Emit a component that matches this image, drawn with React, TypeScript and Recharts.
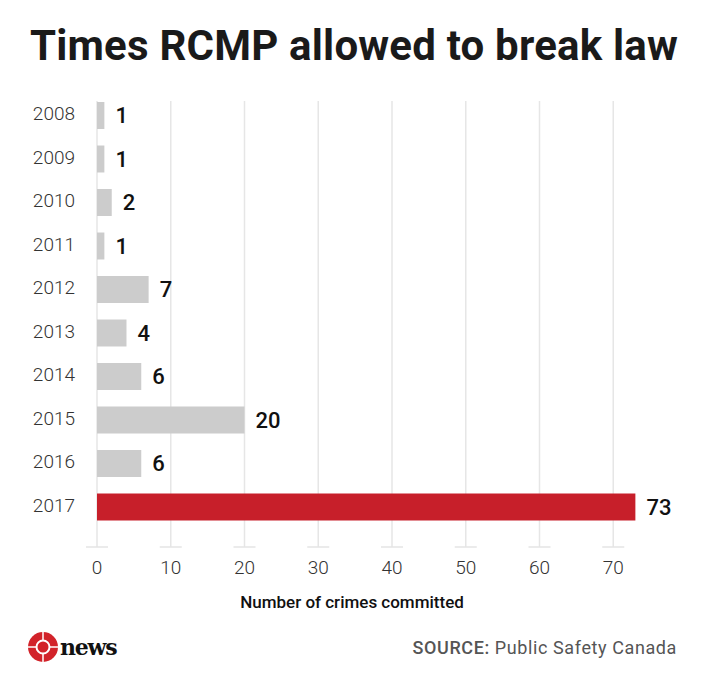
import { BarChart, Bar, Cell, CartesianGrid, LabelList, XAxis, YAxis } from 'recharts'

const years = ['2008', '2009', '2010', '2011', '2012', '2013', '2014', '2015', '2016', '2017']
const crimes = [1, 1, 2, 1, 7, 4, 6, 20, 6, 73]
const highlightYear = '2017'
const xTicks = [0, 10, 20, 30, 40, 50, 60, 70]
const xMax = 80

const data = years.map((year, i) => ({ year, crimes: crimes[i] }))

const FONT = "Roboto, 'Noto Sans', sans-serif"

const XTick = (props: any) => {
  const { x, y, payload } = props
  return (
    <g>
      <line x1={x - 11} x2={x + 11} y1={y + 18} y2={y + 18} stroke="#e5e5e5" strokeWidth={1.5} />
      <text
        x={x}
        y={y + 38}
        textAnchor="middle"
        dominantBaseline="central"
        fontFamily={FONT}
        fontWeight={300}
        fontSize={19}
        fill="#333"
      >
        {payload.value}
      </text>
    </g>
  )
}

// grid only at the labelled ticks, not at the right edge of the plot
const gridX = ({ xAxis, offset }: any) =>
  xTicks.map((t) =>
    typeof xAxis?.scale === 'function' ? xAxis.scale(t) : offset.left + (t / xMax) * offset.width
  )

const Gem = () => (
  <svg width={32} height={32} viewBox="-16 -16 32 32" style={{ position: 'absolute', left: 27, top: 631 }}>
    <circle r={15} fill="#d2232a" />
    <line x1={-16} x2={16} y1={0} y2={0} stroke="#fff" strokeWidth={1.5} />
    <line x1={0} x2={0} y1={-16} y2={16} stroke="#fff" strokeWidth={1.5} />
    <circle r={6.5} fill="#d2232a" stroke="#fff" strokeWidth={2} />
  </svg>
)

const App = () => {
  return (
    <div style={{ position: 'absolute', left: 0, top: 0, width: 704, height: 676, background: '#fff' }}>
      <div
        style={{
          position: 'absolute',
          left: 30,
          top: 25,
          fontFamily: FONT,
          fontWeight: 700,
          fontSize: 42,
          lineHeight: 1,
          letterSpacing: 0.2,
          color: '#1a1a1a',
          whiteSpace: 'nowrap',
        }}
      >
        Times RCMP allowed to break law
      </div>
      <BarChart
        layout="vertical"
        width={704}
        height={676}
        data={data}
        margin={{ top: 94, right: 17, bottom: 87, left: 0 }}
        style={{ position: 'absolute', left: 0, top: 0 }}
      >
        <CartesianGrid
          horizontal={false}
          stroke="#e6e6e6"
          strokeWidth={1.5}
          y={101}
          height={446}
          verticalCoordinatesGenerator={gridX}
        />
        <XAxis
          type="number"
          domain={[0, xMax]}
          ticks={xTicks}
          axisLine={false}
          tickLine={false}
          tickSize={0}
          tickMargin={0}
          height={60}
          tick={<XTick />}
        />
        <YAxis
          type="category"
          dataKey="year"
          width={97}
          axisLine={false}
          tickLine={false}
          tickSize={0}
          tickMargin={22}
          tick={{ fontFamily: FONT, fontWeight: 300, fontSize: 19, fill: '#333', dy: -2 }}
        />
        <Bar dataKey="crimes" barSize={27} isAnimationActive={false}>
          {data.map((d) => (
            <Cell key={d.year} fill={d.year === highlightYear ? '#c71f2a' : '#cccccc'} />
          ))}
          <LabelList
            dataKey="crimes"
            position="right"
            offset={11}
            fill="#111"
            fontFamily={FONT}
            fontWeight={500}
            fontSize={22}
          />
        </Bar>
      </BarChart>
      <div
        style={{
          position: 'absolute',
          left: 0,
          width: 704,
          top: 594,
          textAlign: 'center',
          fontFamily: FONT,
          fontWeight: 500,
          fontSize: 17,
          lineHeight: 1,
          color: '#111',
        }}
      >
        Number of crimes committed
      </div>
      <Gem />
      <div
        style={{
          position: 'absolute',
          left: 60,
          top: 636,
          fontFamily: "'DejaVu Serif', 'Liberation Serif', serif",
          fontWeight: 700,
          fontSize: 22,
          lineHeight: 1,
          letterSpacing: -1.2,
          color: '#111',
        }}
      >
        news
      </div>
      <div
        style={{
          position: 'absolute',
          right: 27,
          top: 639,
          fontFamily: FONT,
          fontSize: 18,
          lineHeight: 1,
          letterSpacing: 0.6,
          color: '#555',
          whiteSpace: 'nowrap',
        }}
      >
        <span style={{ fontWeight: 500 }}>SOURCE:</span> Public Safety Canada
      </div>
    </div>
  )
}

export default App
